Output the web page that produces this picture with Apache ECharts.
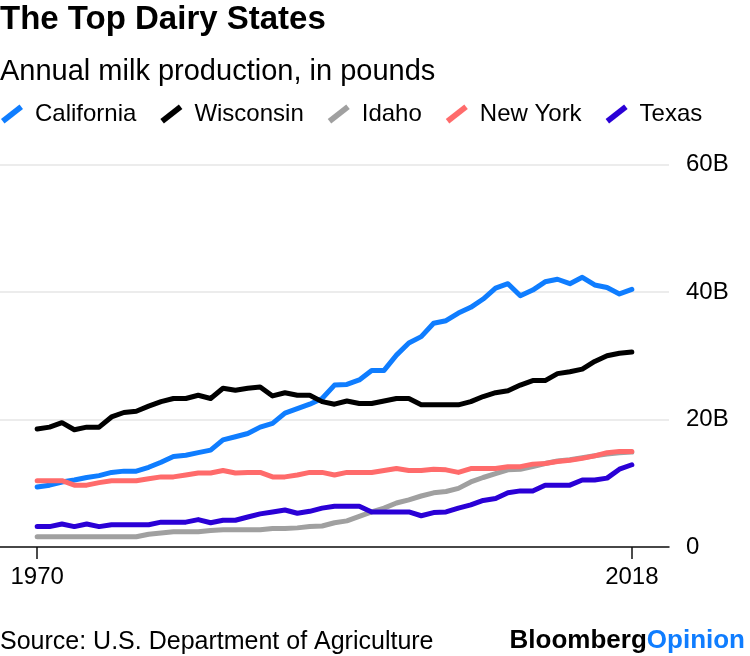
<!DOCTYPE html>
<html>
<head>
<meta charset="utf-8">
<script src="https://cdn.jsdelivr.net/npm/echarts@6/dist/echarts.min.js"></script>
<style>
  html, body { margin: 0; padding: 0; background: #fff; }
  #chart { width: 750px; height: 656px; }
</style>
</head>
<body>
<div id="chart"></div>
<script>
// ---- Data (billions of pounds) ----
const years = [1970,1971,1972,1973,1974,1975,1976,1977,1978,1979,
               1980,1981,1982,1983,1984,1985,1986,1987,1988,1989,
               1990,1991,1992,1993,1994,1995,1996,1997,1998,1999,
               2000,2001,2002,2003,2004,2005,2006,2007,2008,2009,
               2010,2011,2012,2013,2014,2015,2016,2017,2018];

const california = [9.4,9.7,10.2,10.5,10.9,11.2,11.7,11.9,11.9,12.5,
                    13.3,14.2,14.4,14.8,15.2,16.8,17.3,17.8,18.8,19.4,
                    21.0,21.7,22.4,23.3,25.4,25.5,26.2,27.7,27.7,30.1,
                    32.0,33.0,35.1,35.5,36.7,37.6,38.9,40.6,41.3,39.4,
                    40.3,41.6,42.0,41.3,42.3,41.1,40.7,39.7,40.4];

const wisconsin = [18.5,18.8,19.5,18.4,18.8,18.8,20.4,21.1,21.3,22.1,
                   22.8,23.3,23.3,23.8,23.3,24.9,24.6,24.9,25.1,23.7,
                   24.2,23.8,23.8,22.8,22.4,22.9,22.5,22.5,22.9,23.3,
                   23.3,22.3,22.3,22.3,22.3,22.8,23.6,24.2,24.5,25.4,
                   26.1,26.1,27.2,27.5,27.9,29.1,30.0,30.4,30.6];

const idaho = [1.6,1.6,1.6,1.6,1.6,1.6,1.6,1.6,1.6,2.0,
               2.2,2.4,2.4,2.4,2.6,2.7,2.7,2.7,2.7,2.9,
               2.9,3.0,3.2,3.3,3.8,4.1,4.8,5.5,6.1,6.9,
               7.4,8.0,8.5,8.7,9.2,10.2,10.9,11.5,12.1,12.2,
               12.6,13.1,13.5,13.7,14.0,14.3,14.6,14.8,14.9];

const newYork = [10.4,10.4,10.4,9.7,9.7,10.1,10.4,10.4,10.4,10.7,
                 11.0,11.0,11.3,11.6,11.6,12.0,11.6,11.7,11.7,11.0,
                 11.0,11.3,11.7,11.7,11.3,11.7,11.7,11.7,12.0,12.3,
                 12.0,12.0,12.2,12.1,11.7,12.3,12.3,12.3,12.6,12.6,
                 13.0,13.1,13.4,13.6,13.9,14.3,14.8,15.0,15.0];

const texas = [3.2,3.2,3.6,3.2,3.6,3.2,3.5,3.5,3.5,3.5,
               3.9,3.9,3.9,4.3,3.8,4.2,4.2,4.7,5.2,5.5,
               5.8,5.3,5.6,6.1,6.4,6.4,6.4,5.5,5.5,5.5,
               5.5,4.9,5.4,5.5,6.1,6.6,7.3,7.6,8.5,8.8,
               8.8,9.7,9.7,9.7,10.5,10.5,10.8,12.2,12.9];

const seriesNames = ['California', 'Wisconsin', 'Idaho', 'New York', 'Texas'];
const seriesValues = [california, wisconsin, idaho, newYork, texas];
const seriesColors = ['#0f7dff', '#000000', '#a0a0a0', '#ff6b6b', '#2a00d6'];

const xTickLabels = [1970, 2018];

// ---- Chart ----
const chart = echarts.init(document.getElementById('chart'), null, { renderer: 'canvas' });
const FONT = 'Liberation Sans, Arial, Helvetica, sans-serif';
const legendIcon = 'path://M0,14 L18,0 L21.4,4.3 L3.4,18.3 Z';

const option = {
  animation: false,
  backgroundColor: '#ffffff',
  title: [
    {
      text: 'The Top Dairy States',
      left: 0, top: 3, padding: 0,
      textStyle: { fontFamily: FONT, fontSize: 33, fontWeight: 'bold', color: '#000' }
    },
    {
      text: 'Annual milk production, in pounds',
      left: 0, top: 57, padding: 0,
      textStyle: { fontFamily: FONT, fontSize: 29, fontWeight: 'normal', color: '#000' }
    }
  ],
  legend: {
    data: seriesNames.map((n, i) => ({ name: n, icon: legendIcon, itemStyle: { color: seriesColors[i] } })),
    left: 1, top: 102, padding: 0,
    itemWidth: 22, itemHeight: 24, itemGap: 24,
    selectedMode: false,
    textStyle: { fontFamily: FONT, fontSize: 24, color: '#000', padding: [0, 0, 0, 7] }
  },
  grid: { left: 0, right: 81, top: 164.5, bottom: 109, containLabel: false },
  xAxis: {
    type: 'value',
    min: 1967, max: 2021,
    axisLine: { show: true, lineStyle: { color: '#111', width: 1.5 } },
    axisTick: { show: true, customValues: xTickLabels, length: 12, lineStyle: { color: '#111', width: 1.5 } },
    axisLabel: {
      customValues: xTickLabels,
      margin: 18,
      fontFamily: FONT, fontSize: 24, color: '#000',
      formatter: v => String(v)
    },
    splitLine: { show: false }
  },
  yAxis: {
    type: 'value',
    position: 'right',
    min: 0, max: 60, interval: 20,
    axisLine: { show: false },
    axisTick: { show: false },
    axisLabel: {
      margin: 17,
      fontFamily: FONT, fontSize: 24, color: '#000',
      formatter: v => (v === 0 ? '0' : v + 'B')
    },
    splitLine: { show: true, lineStyle: { color: '#ececec', width: 2 } }
  },
  series: seriesNames.map((name, i) => ({
    name: name,
    type: 'line',
    data: years.map((y, j) => [y, seriesValues[i][j]]),
    showSymbol: false,
    symbol: 'none',
    smooth: false,
    color: seriesColors[i],
    lineStyle: { color: seriesColors[i], width: 5, cap: 'round', join: 'round' },
    emphasis: { disabled: true },
    z: 2 + i
  })),
  graphic: [
    {
      type: 'text',
      left: 0,
      top: 630,
      style: {
        text: 'Source: U.S. Department of Agriculture',
        fontFamily: FONT, fontSize: 25, fill: '#000'
      }
    },
    {
      type: 'text',
      right: 5,
      top: 628,
      style: {
        text: '{a|Bloomberg}{b|Opinion}',
        rich: {
          a: { fontFamily: FONT, fontSize: 26, fontWeight: 'bold', fill: '#000', color: '#000' },
          b: { fontFamily: FONT, fontSize: 26, fontWeight: 'bold', fill: '#0f7dff', color: '#0f7dff' }
        }
      }
    }
  ]
};

chart.setOption(option);
</script>
</body>
</html>
